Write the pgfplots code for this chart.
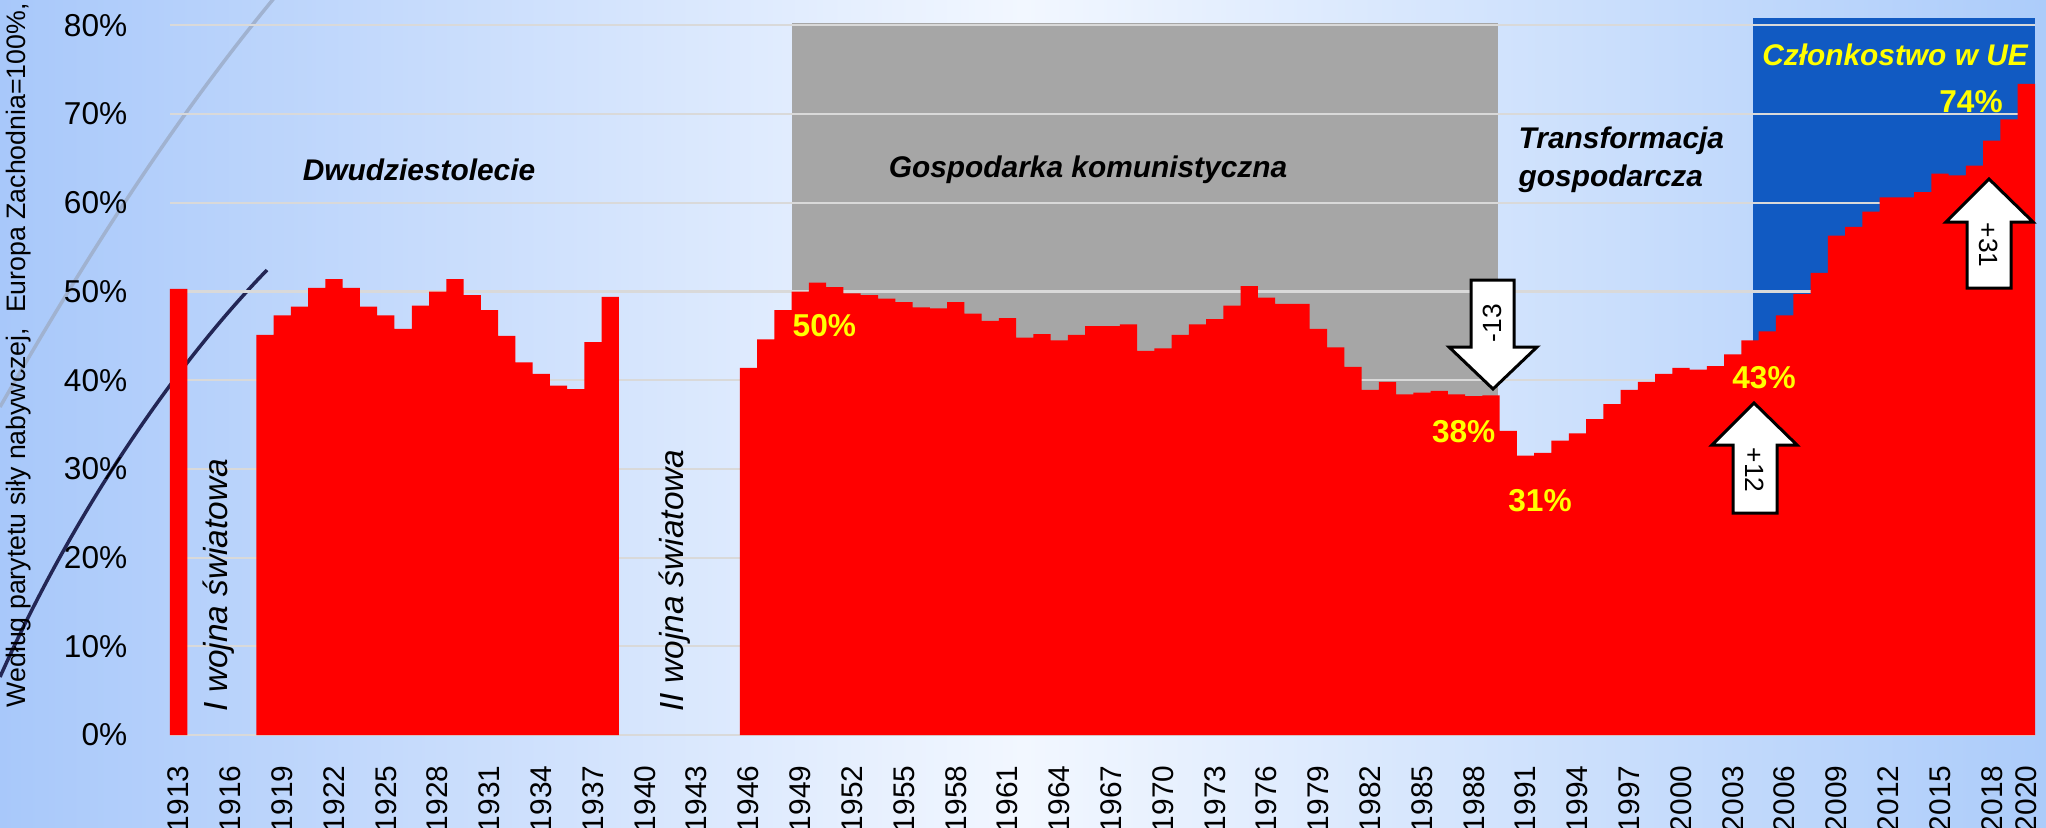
\documentclass[border=0pt]{standalone}
\usepackage{pgfplots}
\pgfplotsset{compat=1.18}
\usepackage{pgfplotstable}
\usepackage{fontspec}
\setmainfont{Liberation Sans}

\definecolor{barred}{RGB}{255,0,0}
\definecolor{regiongray}{RGB}{166,166,166}
\definecolor{eublue}{RGB}{17,90,194}
\definecolor{gridgray}{RGB}{217,217,217}
\definecolor{bgleft}{RGB}{168,200,250}
\definecolor{bgright}{RGB}{172,204,250}
\definecolor{bgmid}{RGB}{242,247,255}
\definecolor{arcgray}{RGB}{160,178,208}
\definecolor{arcnavy}{RGB}{35,38,85}
\definecolor{pctyellow}{RGB}{255,255,0}

% PKB per capita (PPP), Europa Zachodnia = 100
\pgfplotstableread{
year value
1913 50.3
1918 45.1
1919 47.3
1920 48.3
1921 50.4
1922 51.4
1923 50.4
1924 48.3
1925 47.3
1926 45.8
1927 48.4
1928 50.0
1929 51.4
1930 49.6
1931 47.9
1932 45.0
1933 42.0
1934 40.7
1935 39.4
1936 39.0
1937 44.3
1938 49.4
1946 41.4
1947 44.6
1948 47.9
1949 50.0
1950 51.0
1951 50.5
1952 49.8
1953 49.6
1954 49.2
1955 48.8
1956 48.2
1957 48.1
1958 48.8
1959 47.5
1960 46.7
1961 47.0
1962 44.8
1963 45.2
1964 44.5
1965 45.1
1966 46.1
1967 46.1
1968 46.3
1969 43.3
1970 43.6
1971 45.1
1972 46.3
1973 46.9
1974 48.4
1975 50.6
1976 49.3
1977 48.6
1978 48.6
1979 45.8
1980 43.7
1981 41.5
1982 38.9
1983 39.8
1984 38.4
1985 38.6
1986 38.8
1987 38.4
1988 38.2
1989 38.3
1990 34.3
1991 31.5
1992 31.8
1993 33.2
1994 34.0
1995 35.6
1996 37.3
1997 38.9
1998 39.8
1999 40.7
2000 41.4
2001 41.2
2002 41.6
2003 42.9
2004 44.5
2005 45.5
2006 47.3
2007 49.7
2008 52.1
2009 56.3
2010 57.3
2011 59.0
2012 60.6
2013 60.6
2014 61.2
2015 63.3
2016 63.1
2017 64.2
2018 67.0
2019 69.4
2020 73.4
}\pkbdata

\begin{document}
\begin{tikzpicture}
\useasboundingbox (0,0) rectangle (20.46cm,8.27cm);
\clip (0,0) rectangle (20.46cm,8.27cm);
\shade[left color=bgleft, right color=bgright, middle color=bgmid] (0,0) rectangle (20.46cm,8.27cm);

% decorative swooshes of the slide template
\begin{scope}[shift={(0cm,8.27cm)}, x=0.1mm, y=-0.1mm]
  \draw[arcgray, line width=0.35mm] (0,407) .. controls (90,250) and (180,110) .. (285,-15);
  \draw[arcnavy, line width=0.35mm] (0,677) .. controls (70,520) and (170,370) .. (267,270);
\end{scope}

% period backgrounds
\begin{axis}[at={(1.70cm,0.92cm)}, anchor=south west,
  width=18.65cm, height=7.185cm, scale only axis,
  xmin=1912.5, xmax=2020.5, ymin=0, ymax=81,
  hide axis, clip=false]
  \fill[regiongray] (axis cs:1948.5,0) rectangle (axis cs:1989.4,80.3);
  \fill[eublue] (axis cs:2004.14,0) rectangle (axis cs:2020.5,80.8);
\end{axis}

\begin{axis}[
  at={(1.70cm,0.92cm)}, anchor=south west,
  width=18.65cm, height=7.185cm, scale only axis,
  xmin=1912.5, xmax=2020.5, ymin=0, ymax=81,
  ybar, bar width=1,
  axis line style={draw=none},
  tick style={draw=none}, major tick length=0pt,
  ymajorgrids, grid style={gridgray, line width=0.6pt},
  ytick={0,10,...,80},
  yticklabel={\pgfmathprintnumber{\tick}\%},
  yticklabel style={font=\fontsize{9}{10}\selectfont, inner sep=0pt, anchor=east},
  yticklabel shift=4.2mm,
  xtick={1913,1916,...,2018,2020},
  xticklabel style={font=\fontsize{8.5}{10}\selectfont, rotate=90, anchor=east, inner sep=0pt},
  xticklabel shift=3mm,
  /pgf/number format/1000 sep={},
  /pgf/number format/assume math mode=true,
]
\addplot[fill=barred, draw=none] table[x=year, y=value] {\pkbdata};
\end{axis}

% annotations (pixel coordinates of the slide)
\begin{scope}[shift={(0cm,8.27cm)}, x=0.1mm, y=-0.1mm]
  \node[rotate=90, anchor=west, inner sep=0pt, font=\fontsize{7.6}{9}\selectfont] at (19,708)
    {Według parytetu siły nabywczej,\ \ Europa Zachodnia=100\%,};

  \node[font=\fontsize{8.5}{10}\selectfont\bfseries\itshape] at (419,170) {Dwudziestolecie};
  \node[font=\fontsize{8.5}{10}\selectfont\bfseries\itshape] at (1088,170) {Gospodarka komunistyczna};
  \node[anchor=west, inner sep=0pt, font=\fontsize{8.5}{10}\selectfont\bfseries\itshape] at (1518,141) {Transformacja};
  \node[anchor=west, inner sep=0pt, font=\fontsize{8.5}{10}\selectfont\bfseries\itshape] at (1518,179) {gospodarcza};
  \node[text=pctyellow, font=\fontsize{8.5}{10}\selectfont\bfseries\itshape] at (1895,55) {Członkostwo w UE};

  \node[rotate=90, anchor=west, inner sep=0pt, font=\fontsize{9.5}{11}\selectfont\itshape] at (219,712) {I wojna światowa};
  \node[rotate=90, anchor=west, inner sep=0pt, font=\fontsize{9.5}{11}\selectfont\itshape] at (675,712) {II wojna światowa};

  \begin{scope}[text=pctyellow, font=\fontsize{9}{10}\selectfont\bfseries]
    \node[anchor=west, inner sep=0pt] at (792,326) {50\%};
    \node[anchor=east, inner sep=0pt] at (1496,432) {38\%};
    \node[inner sep=0pt] at (1540,501) {31\%};
    \node[inner sep=0pt] at (1764,378) {43\%};
    \node[inner sep=0pt] at (1971,102) {74\%};
  \end{scope}

  \begin{scope}[fill=white, draw=black, line width=0.3mm, line join=miter]
    \filldraw (1471,280) -- (1514,280) -- (1514,347) -- (1537,347) -- (1493,389) -- (1449,347) -- (1471,347) -- cycle;
    \filldraw (1733,513) -- (1777,513) -- (1777,445) -- (1797,445) -- (1754,403) -- (1712,445) -- (1733,445) -- cycle;
    \filldraw (1967,288) -- (2011,288) -- (2011,222) -- (2033,222) -- (1989,179) -- (1946,222) -- (1967,222) -- cycle;
  \end{scope}
  \node[rotate=90, inner sep=0pt, font=\fontsize{7.5}{9}\selectfont] at (1492,323) {-13};
  \node[rotate=-90, inner sep=0pt, font=\fontsize{7.5}{9}\selectfont] at (1755,470) {+12};
  \node[rotate=-90, inner sep=0pt, font=\fontsize{7.5}{9}\selectfont] at (1989,245) {+31};
\end{scope}
\end{tikzpicture}
\end{document}
